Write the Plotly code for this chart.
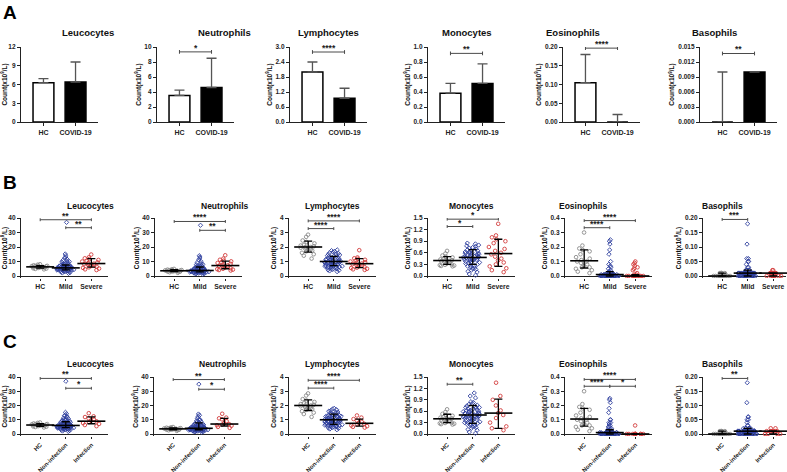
import plotly.graph_objects as go

W, H = 787, 472
FONT = "Liberation Sans, Arial, sans-serif"

CELLS = ["Leucocytes", "Neutrophils", "Lymphocytes", "Monocytes", "Eosinophils", "Basophils"]

# ---------------- Panel A (bar charts, mean + SD) ----------------
A_GROUPS = ["HC", "COVID-19"]
A_HC_MEAN = [6.3, 3.55, 2.0, 0.385, 0.105, 0.0]
A_COV_MEAN = [6.4, 4.6, 0.95, 0.515, 0.0, 0.01]
A_HC_SD = [0.65, 0.7, 0.4, 0.13, 0.075, 0.01]
A_COV_SD = [3.2, 3.9, 0.4, 0.26, 0.02, 0.0]
A_YMAX = [12, 10, 3.0, 1.0, 0.20, 0.015]
A_DTICK = [3, 2, 0.6, 0.2, 0.05, 0.003]
A_FMT = ["d", "d", ".1f", ".1f", ".2f", ".3f"]
A_SIG = [[], [(0, 1, 9.35, "*")], [(0, 1, 2.8, "****")], [(0, 1, 0.915, "**")],
         [(0, 1, 0.197, "****")], [(0, 1, 0.0137, "**")]]

# ---------------- Shared HC values ----------------
HC_LEU = [6.3, 5.8, 7.2, 6.0, 5.1, 6.6, 7.8, 4.9, 6.9, 6.2, 5.5, 7.0, 6.4, 5.9, 4.6, 6.8, 7.4, 5.3, 6.1, 8.1]
HC_NEU = [3.6, 3.1, 4.4, 3.8, 2.6, 4.1, 3.3, 4.9, 3.9, 2.9, 3.5, 4.2, 3.0, 3.7, 2.2, 4.6, 3.4, 4.0, 3.2, 3.8]
HC_LYM = [2.85, 2.7, 2.45, 2.35, 2.25, 2.15, 2.1, 2.05, 2.0, 2.0, 1.95, 1.9, 1.85, 1.8, 1.75, 1.7, 1.6, 1.5, 1.4, 1.2]
HC_MON = [0.65, 0.58, 0.53, 0.5, 0.48, 0.45, 0.43, 0.41, 0.4, 0.39, 0.38, 0.36, 0.34, 0.32, 0.3, 0.29, 0.28, 0.27, 0.26, 0.25]
HC_EOS = [0.3, 0.21, 0.19, 0.18, 0.17, 0.15, 0.13, 0.12, 0.11, 0.1, 0.1, 0.09, 0.08, 0.07, 0.06, 0.06, 0.05, 0.04, 0.03, 0.02]
HC_BAS = [0.01, 0.01, 0.01, 0.01, 0.01, 0.01, 0, 0, 0, 0, 0, 0, 0, 0, 0, 0, 0, 0, 0, 0]

# ---------------- Panel B: Mild / Severe ----------------
B_GROUPS = ["HC", "Mild", "Severe"]
MILD_LEU = [37.0, 15.2, 14.1, 13.0, 12.4, 11.6, 10.8, 10.2, 9.6, 9.1, 8.7, 8.3, 8.0, 7.7, 7.4, 7.1, 6.9, 6.7, 6.5, 6.3,
            6.1, 5.9, 5.8, 5.6, 5.5, 5.4, 5.3, 5.2, 5.1, 5.0, 4.9, 4.8, 4.7, 4.6, 4.5, 4.4, 4.3, 4.2, 4.1, 4.0,
            3.9, 3.8, 3.6, 3.5, 3.3, 3.1, 2.9, 2.7, 2.4, 2.1, 1.8, 6.0, 5.7, 5.2, 4.9, 6.4, 7.9, 4.4, 3.7, 5.5, 6.8, 9.9]
SEV_LEU = [14.8, 12.9, 12.2, 11.7, 11.1, 10.5, 10.0, 9.4, 8.9, 8.5, 8.2, 7.8, 7.3, 6.9, 6.4, 6.0, 5.6, 5.1, 4.6, 4.1]
MILD_NEU = [35.0, 14.0, 13.1, 12.2, 11.0, 10.1, 9.3, 8.6, 8.0, 7.5, 7.0, 6.6, 6.2, 5.9, 5.6, 5.3, 5.0, 4.8, 4.6, 4.4,
            4.2, 4.0, 3.9, 3.8, 3.7, 3.6, 3.5, 3.4, 3.3, 3.2, 3.1, 3.0, 2.9, 2.8, 2.7, 2.6, 2.5, 2.4, 2.3, 2.2,
            2.0, 1.9, 1.7, 1.5, 1.2, 3.6, 4.1, 2.9, 3.3, 5.2, 6.9, 2.6, 4.5, 3.9, 3.0, 2.4, 5.5, 7.8, 3.5, 2.7, 4.8, 3.2]
SEV_NEU = [14.3, 12.0, 11.2, 10.6, 10.1, 9.5, 9.0, 8.4, 7.8, 7.3, 7.0, 6.7, 6.3, 5.8, 5.4, 5.0, 4.7, 4.4, 4.1, 3.8]
MILD_LYM = [1.8, 1.75, 1.7, 1.65, 1.6, 1.55, 1.5, 1.45, 1.4, 1.38, 1.35, 1.3, 1.28, 1.25, 1.2, 1.18, 1.15, 1.12, 1.1, 1.08,
            1.05, 1.02, 1.0, 1.0, 0.98, 0.96, 0.94, 0.92, 0.9, 0.88, 0.86, 0.84, 0.82, 0.8, 0.78, 0.76, 0.74, 0.72, 0.7, 0.68,
            0.66, 0.64, 0.62, 0.6, 0.58, 0.55, 0.52, 0.5, 0.48, 0.45, 0.42, 0.4, 0.35, 0.3, 1.0, 0.95, 1.1, 0.85, 1.25, 0.75, 0.65, 1.5]
SEV_LYM = [1.78, 1.28, 1.22, 1.18, 1.12, 1.05, 1.0, 0.95, 0.9, 0.86, 0.82, 0.78, 0.72, 0.68, 0.62, 0.58, 0.55, 0.5, 0.46, 0.42]
MILD_MON = [0.85, 0.83, 0.8, 0.78, 0.76, 0.74, 0.72, 0.7, 0.68, 0.66, 0.65, 0.63, 0.62, 0.6, 0.59, 0.58, 0.56, 0.55, 0.54, 0.52,
            0.51, 0.5, 0.49, 0.48, 0.47, 0.46, 0.45, 0.44, 0.43, 0.42, 0.41, 0.4, 0.39, 0.38, 0.36, 0.35, 0.33, 0.32, 0.3, 0.28,
            0.27, 0.25, 0.23, 0.21, 0.19, 0.17, 0.15, 0.12, 0.1, 0.05, 0.02, 0.5, 0.45, 0.55, 0.6, 0.42]
SEV_MON = [1.35, 1.05, 1.0, 0.95, 0.9, 0.85, 0.75, 0.7, 0.65, 0.6, 0.56, 0.5, 0.45, 0.4, 0.35, 0.3, 0.25, 0.2, 0.15, 0.1]
MILD_EOS = [0.25, 0.24, 0.22, 0.18, 0.15, 0.1, 0.08, 0.07, 0.06, 0.05, 0.04, 0.03, 0.03, 0.02, 0.02, 0.02, 0.02,
            0.01, 0.01, 0.01, 0.01, 0.01, 0.01, 0.01, 0.01, 0.01, 0.01, 0.01, 0.01, 0.01, 0.01, 0.01,
            0, 0, 0, 0, 0, 0, 0, 0, 0, 0, 0, 0, 0, 0, 0, 0, 0, 0, 0, 0, 0, 0, 0, 0, 0, 0, 0, 0, 0, 0]
SEV_EOS = [0.1, 0.09, 0.08, 0.07, 0.06, 0.05, 0.04, 0.02, 0.01, 0.01, 0, 0, 0, 0, 0, 0, 0, 0, 0, 0]
MILD_BAS = [0.18, 0.11, 0.06, 0.06, 0.05, 0.05, 0.04, 0.03, 0.03, 0.02, 0.02, 0.02, 0.02, 0.02,
            0.01, 0.01, 0.01, 0.01, 0.01, 0.01, 0.01, 0.01, 0.01, 0.01, 0.01, 0.01, 0.01, 0.01, 0.01, 0.01,
            0.01, 0.01, 0.01, 0.01, 0.01, 0.01, 0.01, 0.01, 0.01,
            0, 0, 0, 0, 0, 0, 0, 0, 0, 0, 0, 0, 0, 0, 0, 0, 0, 0, 0, 0]
SEV_BAS = [0.02, 0.02, 0.01, 0.01, 0.01, 0.01, 0.01, 0.01, 0.01, 0.01, 0.01, 0.01, 0, 0, 0, 0, 0, 0, 0, 0]

# summary lines (centre, low whisker, high whisker) per group
B_CENTER = [[6.3, 5.6, 8.6], [3.6, 3.8, 7.2], [2.0, 1.0, 0.85], [0.4, 0.48, 0.58], [0.105, 0.01, 0.0], [0.0, 0.01, 0.01]]
B_LOW = [[5.4, 4.2, 6.1], [3.0, 2.8, 5.0], [1.65, 0.72, 0.58], [0.3, 0.3, 0.25], [0.055, 0.0, 0.0], [0.0, 0.0, 0.0]]
B_HIGH = [[7.2, 7.6, 12.0], [4.3, 6.2, 10.2], [2.4, 1.35, 1.2], [0.5, 0.68, 0.95], [0.18, 0.03, 0.01], [0.01, 0.02, 0.01]]
B_SIG = [[(0, 2, 38.8, "**"), (1, 2, 33.3, "**")],
         [(0, 2, 37.6, "****"), (1, 2, 31.5, "**")],
         [(0, 2, 3.8, "****"), (0, 1, 3.27, "****")],
         [(0, 2, 1.47, "*"), (0, 1, 1.28, "*")],
         [(0, 2, 0.382, "****"), (0, 1, 0.333, "****")],
         [(0, 1, 0.195, "***")]]

# ---------------- Panel C: Non-infection / Infection ----------------
C_GROUPS = ["HC", "Non-infection", "Infection"]
NON_LEU = [37.0, 15.2, 14.1, 13.0, 12.4, 11.6, 10.8, 10.2, 9.6, 9.1, 8.7, 8.3, 8.0, 7.7, 7.4, 7.1, 6.9, 6.7, 6.5, 6.3,
           6.1, 5.9, 5.8, 5.6, 5.5, 5.4, 5.3, 5.2, 5.1, 5.0, 4.9, 4.8, 4.7, 4.6, 4.5, 4.4, 4.3, 4.2, 4.1, 4.0,
           3.9, 3.8, 3.6, 3.5, 3.3, 3.1, 2.9, 2.7, 2.4, 2.1, 1.8, 6.0, 5.7, 5.2, 4.9, 6.4, 7.9, 4.4, 3.7, 5.5, 6.8, 9.9,
           12.9, 11.1, 10.0, 8.5, 7.3, 6.0, 5.1, 4.6]
INF_LEU = [14.6, 12.4, 11.9, 11.0, 10.2, 9.3, 8.9, 8.4, 7.7, 7.1, 6.3, 5.5]
NON_NEU = [35.0, 14.0, 13.1, 12.2, 11.0, 10.1, 9.3, 8.6, 8.0, 7.5, 7.0, 6.6, 6.2, 5.9, 5.6, 5.3, 5.0, 4.8, 4.6, 4.4,
           4.2, 4.0, 3.9, 3.8, 3.7, 3.6, 3.5, 3.4, 3.3, 3.2, 3.1, 3.0, 2.9, 2.8, 2.7, 2.6, 2.5, 2.4, 2.3, 2.2,
           2.0, 1.9, 1.7, 1.5, 1.2, 3.6, 4.1, 2.9, 3.3, 5.2, 6.9, 2.6, 4.5, 3.9, 3.0, 2.4, 5.5, 7.8, 3.5, 2.7, 4.8, 3.2,
           8.9, 9.8, 5.0, 4.2, 4.7, 5.8, 6.4, 3.8]
INF_NEU = [14.2, 11.5, 11.0, 10.3, 9.0, 7.6, 7.0, 6.6, 6.2, 5.8, 5.0, 4.3]
NON_LYM = [1.8, 1.75, 1.7, 1.65, 1.6, 1.55, 1.5, 1.45, 1.4, 1.38, 1.35, 1.3, 1.28, 1.25, 1.2, 1.18, 1.15, 1.12, 1.1, 1.08,
           1.05, 1.02, 1.0, 1.0, 0.98, 0.96, 0.94, 0.92, 0.9, 0.88, 0.86, 0.84, 0.82, 0.8, 0.78, 0.76, 0.74, 0.72, 0.7, 0.68,
           0.66, 0.64, 0.62, 0.6, 0.58, 0.55, 0.52, 0.5, 0.48, 0.45, 0.42, 0.4, 0.35, 0.3, 1.0, 0.95, 1.1, 0.85, 1.25, 0.75,
           0.65, 1.5, 1.22, 0.92, 0.7, 0.6, 1.15, 1.3, 0.85, 0.55]
INF_LYM = [1.3, 1.15, 1.05, 0.95, 0.85, 0.78, 0.72, 0.68, 0.6, 0.55, 0.5, 0.45]
NON_MON = [0.85, 0.83, 0.8, 0.78, 0.76, 0.74, 0.72, 0.7, 0.68, 0.66, 0.65, 0.63, 0.62, 0.6, 0.59, 0.58, 0.56, 0.55, 0.54, 0.52,
           0.51, 0.5, 0.49, 0.48, 0.47, 0.46, 0.45, 0.44, 0.43, 0.42, 0.41, 0.4, 0.39, 0.38, 0.36, 0.35, 0.33, 0.32, 0.3, 0.28,
           0.27, 0.25, 0.23, 0.21, 0.19, 0.17, 0.15, 0.12, 0.1, 0.05, 0.02, 0.5, 0.45, 0.55, 0.6, 0.42,
           1.08, 1.0, 0.95, 0.7, 0.62, 0.35, 0.3, 0.25]
INF_MON = [1.35, 1.0, 0.9, 0.75, 0.62, 0.55, 0.5, 0.42, 0.3, 0.2, 0.15, 0.1]
NON_EOS = [0.25, 0.24, 0.22, 0.18, 0.15, 0.1, 0.1, 0.08, 0.08, 0.07, 0.06, 0.05, 0.05, 0.04, 0.03, 0.03, 0.02, 0.02, 0.02, 0.02, 0.02,
           0.01, 0.01, 0.01, 0.01, 0.01, 0.01, 0.01, 0.01, 0.01, 0.01, 0.01, 0.01, 0.01, 0.01, 0.01, 0.01,
           0, 0, 0, 0, 0, 0, 0, 0, 0, 0, 0, 0, 0, 0, 0, 0, 0, 0, 0, 0, 0, 0, 0, 0, 0, 0, 0, 0, 0, 0, 0, 0, 0]
INF_EOS = [0.06, 0, 0, 0, 0, 0, 0, 0, 0, 0, 0, 0]
NON_BAS = [0.18, 0.11, 0.06, 0.06, 0.05, 0.05, 0.04, 0.03, 0.03, 0.02, 0.02, 0.02, 0.02, 0.02, 0.02,
           0.01, 0.01, 0.01, 0.01, 0.01, 0.01, 0.01, 0.01, 0.01, 0.01, 0.01, 0.01, 0.01, 0.01, 0.01, 0.01,
           0.01, 0.01, 0.01, 0.01, 0.01, 0.01, 0.01, 0.01, 0.01, 0.01, 0.01, 0.01,
           0, 0, 0, 0, 0, 0, 0, 0, 0, 0, 0, 0, 0, 0, 0, 0, 0, 0, 0, 0, 0, 0, 0, 0]
INF_BAS = [0.02, 0.02, 0.01, 0.01, 0.01, 0.01, 0.01, 0.01, 0, 0, 0, 0]

C_CENTER = [[6.3, 6.0, 9.0], [3.6, 4.0, 7.0], [2.0, 1.0, 0.75], [0.4, 0.5, 0.55], [0.105, 0.01, 0.0], [0.0, 0.01, 0.01]]
C_LOW = [[5.4, 4.5, 7.2], [3.0, 3.0, 5.6], [1.65, 0.68, 0.55], [0.3, 0.28, 0.15], [0.055, 0.0, 0.0], [0.0, 0.0, 0.0]]
C_HIGH = [[7.2, 8.6, 12.0], [4.3, 7.8, 11.0], [2.4, 1.4, 1.05], [0.52, 0.75, 0.92], [0.18, 0.03, 0.0], [0.01, 0.02, 0.01]]
C_SIG = [[(0, 2, 39.0, "**"), (1, 2, 32.1, "*")],
         [(0, 2, 38.2, "**"), (1, 2, 31.4, "*")],
         [(0, 2, 3.77, "****"), (0, 1, 3.22, "****")],
         [(0, 1, 1.31, "**")],
         [(0, 2, 0.383, "****"), (0, 1, 0.335, "****"), (1, 2, 0.335, "*")],
         [(0, 1, 0.195, "**")]]

BC_YMAX = [40, 40, 4, 1.5, 0.4, 0.20]
BC_DTICK = [10, 10, 1, 0.3, 0.1, 0.05]
BC_FMT = ["d", "d", "d", ".1f", ".1f", ".2f"]

B_DATA = [[HC_LEU, MILD_LEU, SEV_LEU], [HC_NEU, MILD_NEU, SEV_NEU], [HC_LYM, MILD_LYM, SEV_LYM],
          [HC_MON, MILD_MON, SEV_MON], [HC_EOS, MILD_EOS, SEV_EOS], [HC_BAS, MILD_BAS, SEV_BAS]]
C_DATA = [[HC_LEU, NON_LEU, INF_LEU], [HC_NEU, NON_NEU, INF_NEU], [HC_LYM, NON_LYM, INF_LYM],
          [HC_MON, NON_MON, INF_MON], [HC_EOS, NON_EOS, INF_EOS], [HC_BAS, NON_BAS, INF_BAS]]

# ---------------- styling / layout constants ----------------
GROUP_COLORS = ["#8a8a8a", "#2f3f9e", "#d23c3c"]
GROUP_SYMBOLS = ["circle-open", "diamond-open", "circle-open"]
GROUP_SIZES = [3.6, 3.3, 3.6]
AXIS_COLOR = "#222222"
SIG_COLOR = "#4a4a4a"

ROW_A = dict(x0=[21, 157, 290, 428, 563, 700], w=[77] * 6, top=47, zero=122)
ROW_B = dict(x0=[21, 155, 289, 428, 565, 703], w=[87, 87, 87, 87, 87, 83], top=218, zero=276)
ROW_C = dict(x0=[21, 154, 289, 428, 565, 703], w=[87, 87, 87, 87, 87, 83], top=377, zero=434)
PAD = 0.035  # fraction of y-range below zero so markers at 0 are not clipped

fig = go.Figure()
layout = dict(width=W, height=H, margin=dict(l=0, r=0, t=0, b=0, autoexpand=False), plot_bgcolor="white",
              paper_bgcolor="white", showlegend=False, font=dict(family=FONT, color="#111"))
annotations = []


def ax_names(k):
    return ("x" if k == 1 else f"x{k}"), ("y" if k == 1 else f"y{k}"), \
           ("xaxis" if k == 1 else f"xaxis{k}"), ("yaxis" if k == 1 else f"yaxis{k}")


def add_sig(k, sigs, ymax, xref, yref):
    d = ymax * 0.025
    for (g1, g2, yv, label) in sigs:
        fig.add_trace(go.Scatter(x=[g1, g1, None, g1, g2, None, g2, g2],
                                 y=[yv - d, yv + d, None, yv, yv, None, yv - d, yv + d],
                                 mode="lines", line=dict(color=SIG_COLOR, width=1),
                                 xaxis=xref, yaxis=yref, hoverinfo="skip", cliponaxis=False))
        annotations.append(dict(x=(g1 + g2) / 2, y=yv, xref=xref, yref=yref, text=label, showarrow=False,
                                yanchor="bottom", yshift=-3, font=dict(size=8.5, color="#222", weight="bold")))


def y_axis(ymax, dtick, fmt, dom, lo):
    ticks = []
    v = 0.0
    while v <= ymax * 1.0001:
        ticks.append(round(v, 6))
        v += dtick
    return dict(domain=dom, range=[lo, ymax], showline=True, linecolor=AXIS_COLOR, linewidth=1.3,
                ticks="outside", ticklen=3, tickwidth=1, tickcolor=AXIS_COLOR, tickvals=ticks,
                tickformat=fmt, tickfont=dict(size=6.5, weight="bold", color="#222"),
                showgrid=False, zeroline=False, automargin=False,
                title=dict(text="Count(x10<sup>9</sup>/L)", font=dict(size=6.5, weight="bold"), standoff=2))


k = 0
# ---- Row A ----
for i, cell in enumerate(CELLS):
    k += 1
    xr, yr, xa, ya = ax_names(k)
    x0 = ROW_A["x0"][i]
    w = ROW_A["w"][i]
    xdom = [x0 / W, (x0 + w) / W]
    ydom = [1 - ROW_A["zero"] / H, 1 - ROW_A["top"] / H]
    fig.add_trace(go.Bar(x=[0, 1], y=[A_HC_MEAN[i], A_COV_MEAN[i]], width=0.65,
                         marker=dict(color=["white", "black"], line=dict(color="black", width=1.5)),
                         error_y=dict(type="data", symmetric=False, array=[A_HC_SD[i], A_COV_SD[i]],
                                      arrayminus=[0, 0], color="#555", thickness=1.3, width=5),
                         xaxis=xr, yaxis=yr))
    add_sig(k, A_SIG[i], A_YMAX[i], xr, yr)
    layout[xa] = dict(domain=xdom, range=[-0.7, 1.7], tickvals=[0, 1], ticktext=A_GROUPS, showline=True,
                      linecolor=AXIS_COLOR, linewidth=1.3, ticks="outside", ticklen=3, tickcolor=AXIS_COLOR,
                      tickfont=dict(size=7, weight="bold", color="#222"), showgrid=False, zeroline=False,
                      anchor=yr, automargin=False)
    layout[ya] = y_axis(A_YMAX[i], A_DTICK[i], A_FMT[i], ydom, 0)
    layout[ya]["anchor"] = xr
    annotations.append(dict(x=(x0 + w / 2) / W, y=1 - 32 / H, xref="paper", yref="paper", text=cell,
                            yanchor="middle", showarrow=False, font=dict(size=9.5, weight="bold", color="#111")))

# ---- Rows B and C ----
for row, groups, data, centers, lows, highs, sigs, ytitle in [
        (ROW_B, B_GROUPS, B_DATA, B_CENTER, B_LOW, B_HIGH, B_SIG, 206),
        (ROW_C, C_GROUPS, C_DATA, C_CENTER, C_LOW, C_HIGH, C_SIG, 364)]:
    for i, cell in enumerate(CELLS):
        k += 1
        xr, yr, xa, ya = ax_names(k)
        x0 = row["x0"][i]
        w = row["w"][i]
        hpx = row["zero"] - row["top"]
        bottom = row["zero"] + PAD * hpx
        xdom = [x0 / W, (x0 + w) / W]
        ydom = [1 - bottom / H, 1 - row["top"] / H]
        ymax = BC_YMAX[i]
        for g in range(3):
            vals = data[i][g]
            fig.add_trace(go.Box(y=vals, x0=g, width=0.8, boxpoints="all", jitter=1.0, pointpos=0,
                                 line=dict(width=0, color="rgba(0,0,0,0)"), fillcolor="rgba(0,0,0,0)",
                                 marker=dict(symbol=GROUP_SYMBOLS[g], size=GROUP_SIZES[g], color=GROUP_COLORS[g],
                                             line=dict(width=0.9, color=GROUP_COLORS[g])),
                                 xaxis=xr, yaxis=yr, hoverinfo="y"))
        fig.add_trace(go.Scatter(
            x=[0, 1, 2], y=centers[i], mode="markers",
            marker=dict(symbol="line-ew-open", size=20, color="black", line=dict(width=1.6, color="black")),
            error_y=dict(type="data", symmetric=False,
                         array=[highs[i][g] - centers[i][g] for g in range(3)],
                         arrayminus=[centers[i][g] - lows[i][g] for g in range(3)],
                         color="black", thickness=1.3, width=4),
            xaxis=xr, yaxis=yr, cliponaxis=False))
        add_sig(k, sigs[i], ymax, xr, yr)
        xlay = dict(domain=xdom, range=[-0.75, 2.65 if i < 5 else 2.5], tickvals=[0, 1, 2], ticktext=groups,
                    showline=False, ticks="outside", ticklen=2, tickcolor=AXIS_COLOR,
                    tickfont=dict(size=6.8, weight="bold", color="#222"), showgrid=False, zeroline=False,
                    anchor=yr, automargin=False)
        if row is ROW_C:
            xlay["tickangle"] = -45
            xlay["tickfont"] = dict(size=6, weight="bold", color="#222")
        layout[xa] = xlay
        yl = y_axis(ymax, BC_DTICK[i], BC_FMT[i], ydom, -PAD * ymax)
        yl["zeroline"] = True
        yl["zerolinecolor"] = AXIS_COLOR
        yl["zerolinewidth"] = 1.3
        yl["anchor"] = xr
        layout[ya] = yl
        annotations.append(dict(x=(x0 + w / 2) / W, y=1 - ytitle / H, xref="paper", yref="paper", text=cell,
                                yanchor="middle", showarrow=False, font=dict(size=8.5, weight="bold", color="#111")))

for letter, yp in [("A", 12), ("B", 182), ("C", 341)]:
    annotations.append(dict(x=10 / W, y=1 - yp / H, xref="paper", yref="paper", text=letter, showarrow=False,
                            xanchor="center", yanchor="middle", font=dict(size=19, weight="bold", color="#000")))

layout["annotations"] = annotations
fig.update_layout(**layout)
fig.write_html("out.html", config={"displayModeBar": False},
               post_script="document.body.style.margin='0';document.body.style.padding='0';")
